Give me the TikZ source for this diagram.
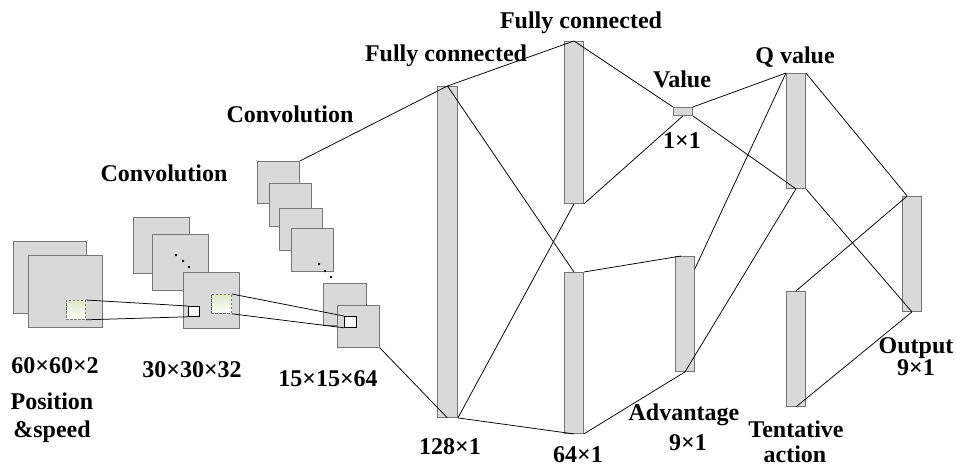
\documentclass[tikz,border=0pt]{standalone}
\usepackage{fontspec}
\setmainfont{Liberation Serif}
\usetikzlibrary{calc}
\definecolor{boxfill}{RGB}{217,217,217}
\definecolor{boxedge}{RGB}{118,118,118}
\definecolor{patchtop}{RGB}{222,230,198}

\tikzset{
  fmap/.style={draw=boxedge, fill=boxfill, line width=0.9pt, inner sep=0pt, anchor=north west},
  win/.style={draw=black, fill=white, line width=0.8pt, inner sep=0pt, anchor=north west},
  patch/.style={draw=boxedge, dash pattern=on 2.5pt off 1.5pt, top color=patchtop, bottom color=white,
                inner sep=0pt, anchor=north west, line width=0.8pt},
  link/.style={draw=black, line width=0.75pt},
  lbl/.style={font=\fontsize{24}{26}\selectfont\bfseries, anchor=base, inner sep=0pt},
  dotmark/.style={fill=black}
}

\begin{document}
\begin{tikzpicture}[x=1pt,y=-1pt]
\useasboundingbox (0,0) rectangle (956,467);

% input: position and speed planes
\node[fmap, minimum width=73pt, minimum height=72pt] (in1) at (13,241) {};
\node[fmap, minimum width=74pt, minimum height=72pt] (in2) at (28,255) {};
\node[patch, minimum width=19pt, minimum height=19pt] (p0) at (66,300) {};

% first convolution layer
\node[fmap, minimum width=56pt, minimum height=56pt] (c1a) at (133,217) {};
\node[fmap, minimum width=56pt, minimum height=56pt] (c1b) at (152,234) {};
\fill[dotmark] (176,255) circle (1.3pt) (183,261) circle (1.3pt) (189,267) circle (1.3pt);
\node[fmap, minimum width=56pt, minimum height=56pt] (c1c) at (183,272) {};
\node[win, minimum width=11pt, minimum height=10pt] (w1) at (188,306) {};
\node[patch, minimum width=20pt, minimum height=19pt] (p1) at (211,294) {};

% second convolution layer
\node[fmap, minimum width=42pt, minimum height=42pt] (c2a) at (257,161) {};
\node[fmap, minimum width=42pt, minimum height=43pt] (c2b) at (269,183) {};
\node[fmap, minimum width=43pt, minimum height=42pt] (c2c) at (279,208) {};
\node[fmap, minimum width=42pt, minimum height=43pt] (c2d) at (291,228) {};
\fill[dotmark] (319,264) circle (1.3pt) (325,271) circle (1.3pt) (331,277) circle (1.3pt);
\node[fmap, minimum width=43pt, minimum height=42pt] (c2e) at (323,283) {};
\node[fmap, minimum width=42pt, minimum height=42pt] (c2f) at (337,305) {};
\node[win, minimum width=12pt, minimum height=11pt] (w2) at (344,316) {};

% dense layers
\node[fmap, minimum width=20pt, minimum height=331pt] (fc1) at (437,86) {};
\node[fmap, minimum width=19pt, minimum height=162pt] (fc2) at (564,41) {};
\node[fmap, minimum width=19pt, minimum height=161pt] (h64) at (564,272) {};
\node[fmap, minimum width=19pt, minimum height=8pt]   (val) at (673,107) {};
\node[fmap, minimum width=19pt, minimum height=115pt] (adv) at (675,256) {};
\node[fmap, minimum width=19pt, minimum height=115pt] (qv)  at (786,73) {};
\node[fmap, minimum width=19pt, minimum height=115pt] (ten) at (786,291) {};
\node[fmap, minimum width=19pt, minimum height=115pt] (out) at (902,196) {};

% attachment points along bar edges
\coordinate (advtop) at ($(adv.north west)!0.3!(adv.north east)$);
\coordinate (advside) at ($(adv.north east)!0.11!(adv.south east)$);
\coordinate (outtop) at ($(out.north west)!0.26!(out.north east)$);

% receptive fields
\draw[link] (p0.north east) -- (w1.north west);
\draw[link] (p0.south east) -- (w1.south west);
\draw[link] (p1.north east) -- (w2.north west);
\draw[link] (p1.south east) -- (w2.south west);

% connections between layers
\draw[link] (c2a.north east) -- (fc1.north) -- (fc2.north);
\draw[link] (c2f.south east) -- (fc1.south);
\draw[link] (fc1.north) -- (h64.north);
\draw[link] (fc1.south east) -- (fc2.south);
\draw[link] (fc1.south east) -- (h64.south);
\draw[link] (fc2.north) -- (val.north west);
\draw[link] (fc2.south east) -- (val.south);
\draw[link] (h64.north east) -- (advtop);
\draw[link] (h64.south east) -- (adv.south);
\draw[link] (val.north east) -- (qv.north west);
\draw[link] (val.south east) -- (qv.south);
\draw[link] (qv.north west) -- (advside);
\draw[link] (qv.south) -- (adv.south);
\draw[link] (qv.north east) -- (outtop);
\draw[link] (qv.south east) -- (out.south);
\draw[link] (outtop) -- (ten.north);
\draw[link] (ten.south) -- (out.south);

% labels
\node[lbl] (tconv2) at (290,122) {Convolution};
\node[lbl] (tconv1) at (164,181) {Convolution};
\node[lbl] (tfc1) at (446,61) {Fully connected};
\node[lbl] (tfc2) at (581,28) {Fully connected};
\node[lbl] (tval) at (682,87) {Value};
\node[lbl] (tval1) at (682,148) {1×1};
\node[lbl] (tq) at (795,63) {Q value};
\node[lbl] (tin) at (55,373) {60×60×2};
\node[lbl] (tpos) at (52,409) {Position};
\node[lbl] (tspd) at (52,437) {\&speed};
\node[lbl] (tc1) at (192,377) {30×30×32};
\node[lbl] (tc2) at (328,386) {15×15×64};
\node[lbl] (t128) at (450,454) {128×1};
\node[lbl] (t64) at (578,462) {64×1};
\node[lbl] (tadv) at (684,420) {Advantage};
\node[lbl] (tadv1) at (688,450) {9×1};
\node[lbl] (tten) at (796,437) {Tentative};
\node[lbl] (tact) at (795,462) {action};
\node[lbl] (tout) at (916,353) {Output};
\node[lbl] (tout1) at (916,375) {9×1};
\end{tikzpicture}
\end{document}
